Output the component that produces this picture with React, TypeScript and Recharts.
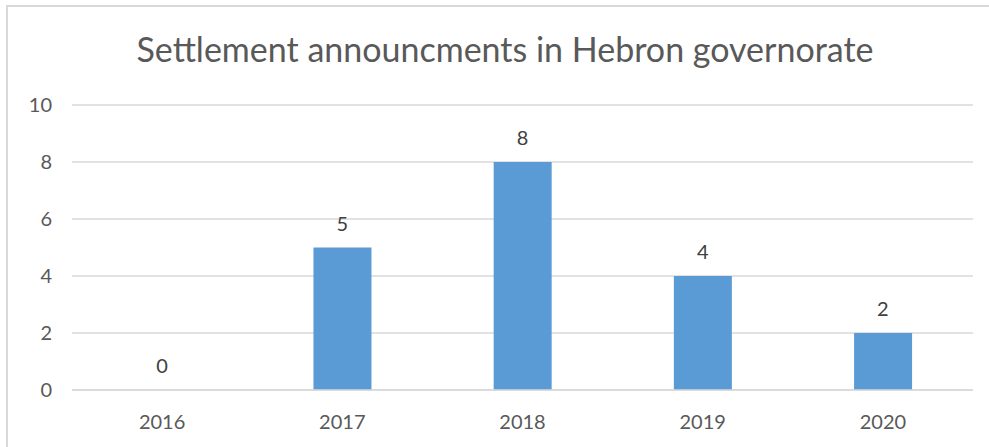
import { ComposedChart, Bar, Line, XAxis, YAxis, CartesianGrid, LabelList } from 'recharts'

const years = ['2016', '2017', '2018', '2019', '2020']
const announcements = [0, 5, 8, 4, 2]
const yTicks = [0, 2, 4, 6, 8, 10]

const data = years.map((year, i) => ({ year, count: announcements[i] }))

const font = 'Lato, "Open Sans", "Liberation Sans", sans-serif'

export default function App() {
  return (
    <div style={{ position: 'fixed', left: 0, top: 0, width: 989, height: 447, background: '#fff', overflow: 'hidden', fontFamily: font }}>
      {/* chart frame */}
      <div style={{ position: 'absolute', left: 6, top: 5, width: 1000, height: 460, border: '2px solid #d9d9d9', boxSizing: 'border-box' }} />

      <div style={{ position: 'absolute', left: 0, top: 28, width: 1010, textAlign: 'center', fontSize: 34, color: '#595959' }}>
        Settlement announcments in Hebron governorate
      </div>

      <div style={{ position: 'absolute', left: 0, top: 0 }}>
        <ComposedChart
          width={989}
          height={447}
          data={data}
          margin={{ top: 105, right: 16, left: 0, bottom: 0 }}
          barCategoryGap="34%"
        >
          <CartesianGrid vertical={false} stroke="#d9d9d9" strokeWidth={1.5} />
          <XAxis
            dataKey="year"
            axisLine={{ stroke: '#d9d9d9', strokeWidth: 1.5 }}
            tickLine={false}
            tick={{ fill: '#595959', fontSize: 20, fontFamily: font }}
            tickMargin={19}
            height={57}
          />
          <YAxis
            domain={[0, 10]}
            ticks={yTicks}
            axisLine={false}
            tickLine={false}
            tick={{ fill: '#595959', fontSize: 20, fontFamily: font }}
            tickMargin={14}
            width={72}
          />
          <Bar dataKey="count" fill="#5b9bd5" isAnimationActive={false} />
          {/* invisible line only carries the value labels (bar labels skip zero) */}
          <Line dataKey="count" stroke="none" dot={false} activeDot={false} isAnimationActive={false}>
            <LabelList dataKey="count" position="top" offset={17} fill="#404040" fontSize={20} fontFamily={font} />
          </Line>
        </ComposedChart>
      </div>
    </div>
  )
}
